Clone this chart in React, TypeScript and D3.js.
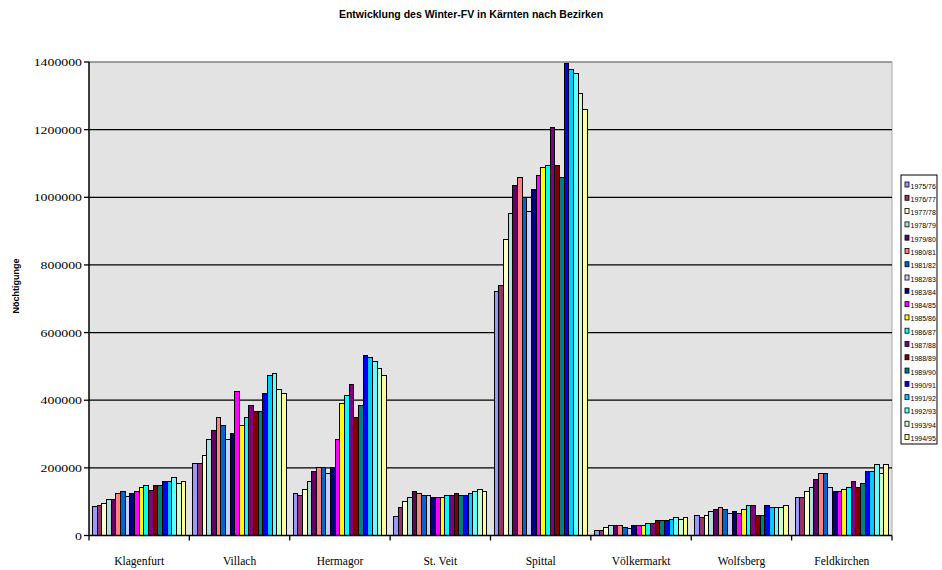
import React from 'react';
import * as d3 from 'd3';

const districts = ['Klagenfurt', 'Villach', 'Hermagor', 'St. Veit', 'Spittal', 'Völkermarkt', 'Wolfsberg', 'Feldkirchen'];
const seasons = ['1975/76', '1976/77', '1977/78', '1978/79', '1979/80', '1980/81', '1981/82', '1982/83', '1983/84', '1984/85',
  '1985/86', '1986/87', '1987/88', '1988/89', '1989/90', '1990/91', '1991/92', '1992/93', '1993/94', '1994/95'];
const seasonColors = ['#9999FF', '#993366', '#FFFFCC', '#ADE2DA', '#660066', '#FF8080', '#0066CC', '#CCCCFF', '#000080', '#FF00FF',
  '#FFFF00', '#00FFFF', '#800080', '#800000', '#008080', '#0000FF', '#00CCFF', '#66FFFF', '#CCFFCC', '#FFFF99'];

const klagenfurt = [85000, 90000, 95000, 106000, 106000, 125000, 129000, 114000, 125000, 129000, 142000, 148000, 132000, 148000, 148000, 159000, 159000, 172000, 154000, 159000];
const villach = [213000, 213000, 237000, 284000, 309000, 349000, 326000, 284000, 302000, 426000, 326000, 349000, 385000, 368000, 368000, 420000, 474000, 479000, 432000, 420000];
const hermagor = [125000, 119000, 136000, 160000, 190000, 201000, 201000, 183000, 201000, 285000, 391000, 414000, 445000, 350000, 385000, 533000, 526000, 515000, 494000, 473000];
const stVeit = [55000, 83000, 101000, 113000, 131000, 125000, 119000, 119000, 113000, 113000, 113000, 119000, 119000, 125000, 119000, 119000, 125000, 131000, 136000, 131000];
const spittal = [722000, 740000, 876000, 952000, 1034000, 1058000, 999000, 958000, 1023000, 1064000, 1088000, 1094000, 1207000, 1094000, 1058000, 1395000, 1377000, 1365000, 1306000, 1259000];
const voelkermarkt = [16000, 16000, 23000, 30000, 30000, 30000, 23000, 22000, 29000, 29000, 29000, 36000, 36000, 43000, 43000, 43000, 48000, 53000, 48000, 53000];
const wolfsberg = [58000, 53000, 58000, 70000, 76000, 83000, 76000, 66000, 71000, 66000, 76000, 89000, 89000, 58000, 58000, 89000, 83000, 83000, 83000, 89000];
const feldkirchen = [112000, 112000, 129000, 141000, 165000, 183000, 183000, 141000, 129000, 129000, 135000, 141000, 159000, 141000, 153000, 188000, 188000, 211000, 183000, 211000];

const yTicks = [0, 200000, 400000, 600000, 800000, 1000000, 1200000, 1400000];

const districtValues = [klagenfurt, villach, hermagor, stVeit, spittal, voelkermarkt, wolfsberg, feldkirchen];

const W = 942;
const H = 570;
const left = 89;
const right = 892;
const top = 62;
const bottom = 535.5;

export default function App() {
  const x0 = d3.scaleBand<string>().domain(districts).range([left, right]).padding(0);
  const bw = x0.bandwidth();
  const barW = bw / 21.5;
  const x1 = d3.scaleBand<string>().domain(seasons).range([barW * 0.75, bw - barW * 0.75]).padding(0);
  const y = d3.scaleLinear().domain([0, 1400000]).range([bottom, top]);
  const color = d3.scaleOrdinal<string, string>().domain(seasons).range(seasonColors);

  const serif = '"Liberation Serif", "Times New Roman", serif';
  const sans = '"Liberation Sans", Arial, sans-serif';

  return (
    <svg width={W} height={H} style={{ position: 'absolute', left: 0, top: 0, background: '#fff' }}>
      <text x={471} y={18} textAnchor="middle" fontFamily={sans} fontWeight="bold" fontSize={10.5} fill="#000">
        Entwicklung des Winter-FV in Kärnten nach Bezirken
      </text>
      <rect x={left} y={top} width={right - left} height={bottom - top} fill="#E3E3E3" />
      <line x1={left} x2={right} y1={top} y2={top} stroke="#808080" strokeWidth={1.5} />
      <line x1={right} x2={right} y1={top} y2={bottom} stroke="#A8A8A8" strokeWidth={1} />
      {yTicks.slice(1, -1).map(t => (
        <line key={'g' + t} x1={left} x2={right} y1={y(t)} y2={y(t)} stroke="#000" strokeWidth={1.3} />
      ))}
      {districts.map((d, di) => (
        <g key={d} transform={`translate(${x0(d)},0)`}>
          {seasons.map((s, si) => {
            const v = districtValues[di][si];
            return (
              <rect key={s} x={x1(s)} y={y(v)} width={x1.bandwidth()} height={bottom - y(v)}
                fill={color(s)} stroke="#000" strokeWidth={1} shapeRendering="crispEdges" />
            );
          })}
        </g>
      ))}
      <line x1={left} x2={left} y1={top} y2={bottom} stroke="#000" strokeWidth={1.5} />
      <line x1={left} x2={right} y1={bottom} y2={bottom} stroke="#000" strokeWidth={1.5} />
      {yTicks.map(t => (
        <g key={'t' + t}>
          <line x1={left - 5} x2={left} y1={y(t)} y2={y(t)} stroke="#000" strokeWidth={1.3} />
          <text x={82} y={y(t) + 4} textAnchor="end" fontFamily={serif} fontSize={11}
            textLength={String(t).length * 6.9} lengthAdjust="spacingAndGlyphs">{t}</text>
        </g>
      ))}
      {[...districts.map(d => x0(d) as number), right].map((xv, i) => (
        <line key={'ct' + i} x1={xv} x2={xv} y1={bottom} y2={bottom + 5} stroke="#000" strokeWidth={1.3} />
      ))}
      {districts.map(d => (
        <text key={'l' + d} x={(x0(d) as number) + bw / 2} y={565} textAnchor="middle" fontFamily={serif} fontSize={11.5}>{d}</text>
      ))}
      <text transform={`translate(19,286) rotate(-90)`} textAnchor="middle" fontFamily={sans} fontWeight="bold" fontSize={9}>Nöchtigunge</text>
      <rect x={901} y={175} width={36} height={269} fill="#fff" stroke="#000" strokeWidth={1} />
      {seasons.map((s, i) => {
        const cy = 184.5 + i * 13.29;
        return (
          <g key={'lg' + s}>
            <rect x={905} y={cy - 2.5} width={4} height={5} fill={color(s)} stroke="#000" strokeWidth={0.8} />
            <text x={910.5} y={cy + 4} fontFamily={sans} fontSize={7}>{s}</text>
          </g>
        );
      })}
    </svg>
  );
}
